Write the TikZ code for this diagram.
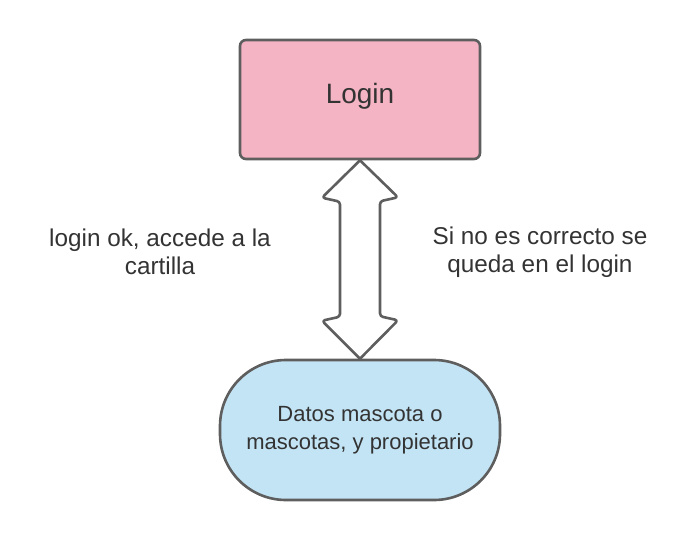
\documentclass[tikz,border=0pt]{standalone}
\usepackage{fontspec}
\setmainfont{Liberation Sans}
\definecolor{edge}{HTML}{5E5E5E}
\definecolor{pinkfill}{HTML}{F4B4C4}
\definecolor{bluefill}{HTML}{C3E4F5}
\definecolor{txt}{HTML}{333333}
\begin{document}
\begin{tikzpicture}[x=1pt,y=-1pt,
  box/.style={draw=edge,line width=2.6pt,text=txt},
  lbl/.style={text=txt,align=center,font=\fontsize{24.3}{28}\selectfont}]
\useasboundingbox (0,0) rectangle (700,540);
\node[box,fill=pinkfill,rounded corners=6pt,minimum width=240pt,minimum height=119pt] (login) at (360,99.5) {};
\node[text=txt,font=\fontsize{28}{30}\selectfont] (logintxt) at (360,96) {Login};
\node[box,fill=bluefill,rounded corners=66pt,minimum width=280pt,minimum height=140pt,align=center,font=\fontsize{22}{28}\selectfont] (datos) at (360,430) {Datos mascota o\\mascotas, y propietario};
\coordinate (top) at (login.south);
\coordinate (bot) at (datos.north);
\draw[draw=edge,line width=2.6pt,fill=white,line join=round,rounded corners=3pt]
  (top) -- ++(38,37) -- ++(-18,4) -- ++(0,115) -- ++(18,4)
  [sharp corners] -- (bot) [rounded corners=3pt] -- ++(-38,-38) -- ++(18,-4) -- ++(0,-115) -- ++(-18,-4) [sharp corners] -- cycle;
\node[lbl] (l1) at (160,252) {login ok, accede a la\\cartilla};
\node[lbl] (l2) at (540,252) {Si no es correcto se\\queda en el login};
\end{tikzpicture}
\end{document}
